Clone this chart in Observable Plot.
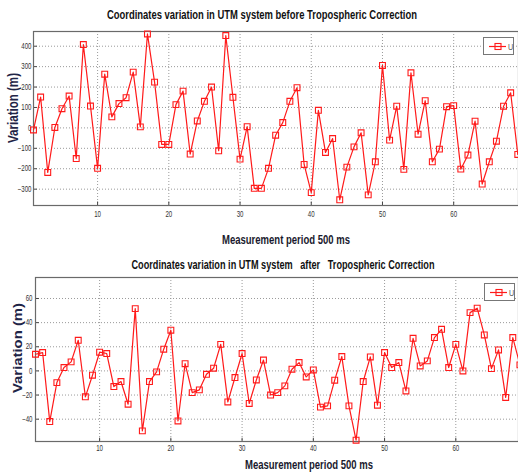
<!DOCTYPE html>
<html>
<head>
<meta charset="utf-8">
<script src="https://cdn.jsdelivr.net/npm/d3@7"></script>
<script src="https://cdn.jsdelivr.net/npm/@observablehq/plot@0.6"></script>
<style>
  html, body { margin: 0; padding: 0; background: #fff; }
  #wrap { position: relative; width: 518px; height: 475px; overflow: hidden; font-family: "Liberation Sans", Arial, sans-serif; }
  .abs { position: absolute; white-space: nowrap; line-height: 1; }
  .title { font-weight: bold; font-size: 12.5px; color: #111; }
  .xlab { font-weight: bold; font-size: 13.5px; color: #1a1a2e; }
  .ylab { font-weight: bold; color: #1f2547; }
  .legend { border: 1px solid #777; background: #fff; width: 31px; height: 18px; box-sizing: border-box; }
  .legend svg { position: absolute; left: 0; top: 0; }
  .plot { position: absolute; left: 0; }
</style>
</head>
<body>
<div id="wrap"></div>
<script>
// Data: measurement index and U variation (m)
const indexValues = d3.range(1, 70);
const beforeU = [-10, 151, -218, 2, 94, 156, -150, 408, 107, -198,
  263, 54, 119, 148, 273, 5, 460, 224, -81, -81,
  114, 180, -128, 34, 130, 200, -112, 452, 150, -153,
  6, -296, -296, -198, -36, 26, 130, 197, -179, -317,
  86, -120, -52, -352, -192, -93, -24, -328, -166, 306,
  -60, 106, -203, 270, -31, 133, -166, -104, 104, 109,
  -202, -133, 33, -275, -166, -65, 106, 172, -130];
const afterU = [13.8, 15.2, -42, -9.7, 2.8, 7.5, 25.4, -21.5, -3.6, 15.5,
  14.4, -13, -8.8, -27.6, 51.6, -49.7, -8.8, -0.8, 18, 33.7,
  -41.5, 6, -18, -15.7, -2.8, 2.2, 22, -25.7, -5.5, 14.4,
  -27, -7.5, 9, -20, -18, -12.4, 1.4, 6.9, -5, 0.8,
  -30, -29, -7.7, 11.9, -29, -57.4, -8.8, 11.6, -28.4, 15.2,
  2.8, 6.9, -16.6, 27, 4.1, 8.3, 27.6, 34.5, 2.8, 22,
  0, 48.3, 52, 29.8, 1.9, 17.4, -22, 27.6, 5];
const xTicks = [10, 20, 30, 40, 50, 60];
const yTicksBefore = [-300, -200, -100, 0, 100, 200, 300, 400];
const yTicksAfter = [-40, -20, 0, 20, 40, 60];

const titles = ["Coordinates variation in UTM system before Tropospheric Correction",
                "Coordinates variation in UTM system\u00a0\u00a0 after\u00a0\u00a0 Tropospheric Correction"];
const xLabel = "Measurement period 500 ms";
const yLabel = "Variation (m)";
const seriesName = "U";

const FONT = '"Liberation Sans", Arial, sans-serif';
const wrap = document.getElementById("wrap");

function makePlot(values, yDomain, yTicks, opts) {
  const data = indexValues.map((x, i) => ({x, y: values[i]}));
  const xd = opts.xDomain;
  const tickLen = (xd[1] - xd[0]) * 0.008;
  const svg = Plot.plot({
    width: 518,
    height: opts.height,
    marginTop: opts.mt,
    marginBottom: opts.mb,
    marginLeft: opts.ml,
    marginRight: 0,
    style: {fontFamily: FONT, fontSize: "8.5px", color: "#333", background: "transparent"},
    x: {domain: xd, ticks: xTicks},
    y: {domain: yDomain, ticks: yTicks},
    marks: [
      Plot.gridX(xTicks, {stroke: "#9a9a9a", strokeOpacity: 1, strokeDasharray: "1,2"}),
      Plot.gridY(yTicks, {stroke: "#9a9a9a", strokeOpacity: 1, strokeDasharray: "1,2"}),
      Plot.ruleY(yTicks, {x1: xd[0], x2: xd[0] + tickLen, stroke: "#444"}),
      Plot.ruleX(xTicks, {y1: yDomain[0], y2: yDomain[0] + (yDomain[1] - yDomain[0]) * 0.02, stroke: "#444"}),
      Plot.frame({stroke: "#6a6a6a", strokeWidth: 1.2}),
      Plot.axisX(xTicks, {tickSize: 0, tickPadding: opts.xpad, label: null}),
      Plot.axisY(yTicks, {tickSize: 0, tickPadding: opts.ypad, label: null}),
      Plot.line(data, {x: "x", y: "y", stroke: "#ff1a1a", strokeWidth: 1.2}),
      Plot.dot(data, {x: "x", y: "y", symbol: "square", r: 3.3, stroke: "#ff1a1a", strokeWidth: 1.1, fill: "none"})
    ]
  });
  // condense tick labels horizontally (narrow font look)
  d3.select(svg).selectAll('g[aria-label="x-axis tick label"] text, g[aria-label="y-axis tick label"] text')
    .attr("transform", function() { return (this.getAttribute("transform") || "") + " scale(0.72,1)"; });
  return svg;
}

function addText(cls, text, x, y, targetWidth, opts = {}) {
  const d = document.createElement("div");
  d.className = "abs " + cls;
  d.textContent = text;
  d.style.left = x + "px";
  d.style.top = y + "px";
  if (opts.fontSize) d.style.fontSize = opts.fontSize + "px";
  wrap.appendChild(d);
  const w = d.getBoundingClientRect().width;
  const s = targetWidth / w;
  d.style.transform = "translate(-50%, -50%)" + (opts.rotate ? " rotate(-90deg)" : "") + ` scaleX(${s})`;
}

function addLegend(x, y) {
  const d = document.createElement("div");
  d.className = "abs legend";
  d.style.left = x + "px";
  d.style.top = y + "px";
  d.innerHTML = `<svg width="31" height="18">
    <line x1="5" x2="22" y1="8.5" y2="8.5" stroke="#ff1a1a" stroke-width="1.2"/>
    <rect x="11" y="5.5" width="6" height="6" fill="none" stroke="#ff1a1a" stroke-width="1.1"/>
    <text x="24" y="12.5" font-size="9" fill="#555" font-family='${FONT}' transform="translate(24,0) scale(0.8,1) translate(-24,0)">${seriesName}</text></svg>`;
  wrap.appendChild(d);
}

// Top chart
const p1 = makePlot(beforeU, [-380, 472], yTicksBefore,
  {height: 230, mt: 31, mb: 25, ml: 33, xDomain: [1, 69.1], xpad: 5, ypad: 2});
p1.classList.add("plot");
p1.style.top = "0px";
wrap.appendChild(p1);

// Bottom chart
const p2 = makePlot(afterU, [-58.5, 77.4], yTicksAfter,
  {height: 230, mt: 32, mb: 34, ml: 35, xDomain: [1, 68.8], xpad: 3, ypad: 3});
p2.classList.add("plot");
p2.style.top = "245px";
wrap.appendChild(p2);

addText("title", titles[0], 262, 15, 310);
addText("xlab", xLabel, 286, 240, 128);
addText("ylab", yLabel, 13, 108, 70, {rotate: true, fontSize: 14});
addLegend(483, 37);

addText("title", titles[1], 283, 265, 303);
addText("xlab", xLabel, 309, 465, 128);
addText("ylab", yLabel, 17, 348, 90, {rotate: true, fontSize: 13});
addLegend(484, 283);
</script>
</body>
</html>
